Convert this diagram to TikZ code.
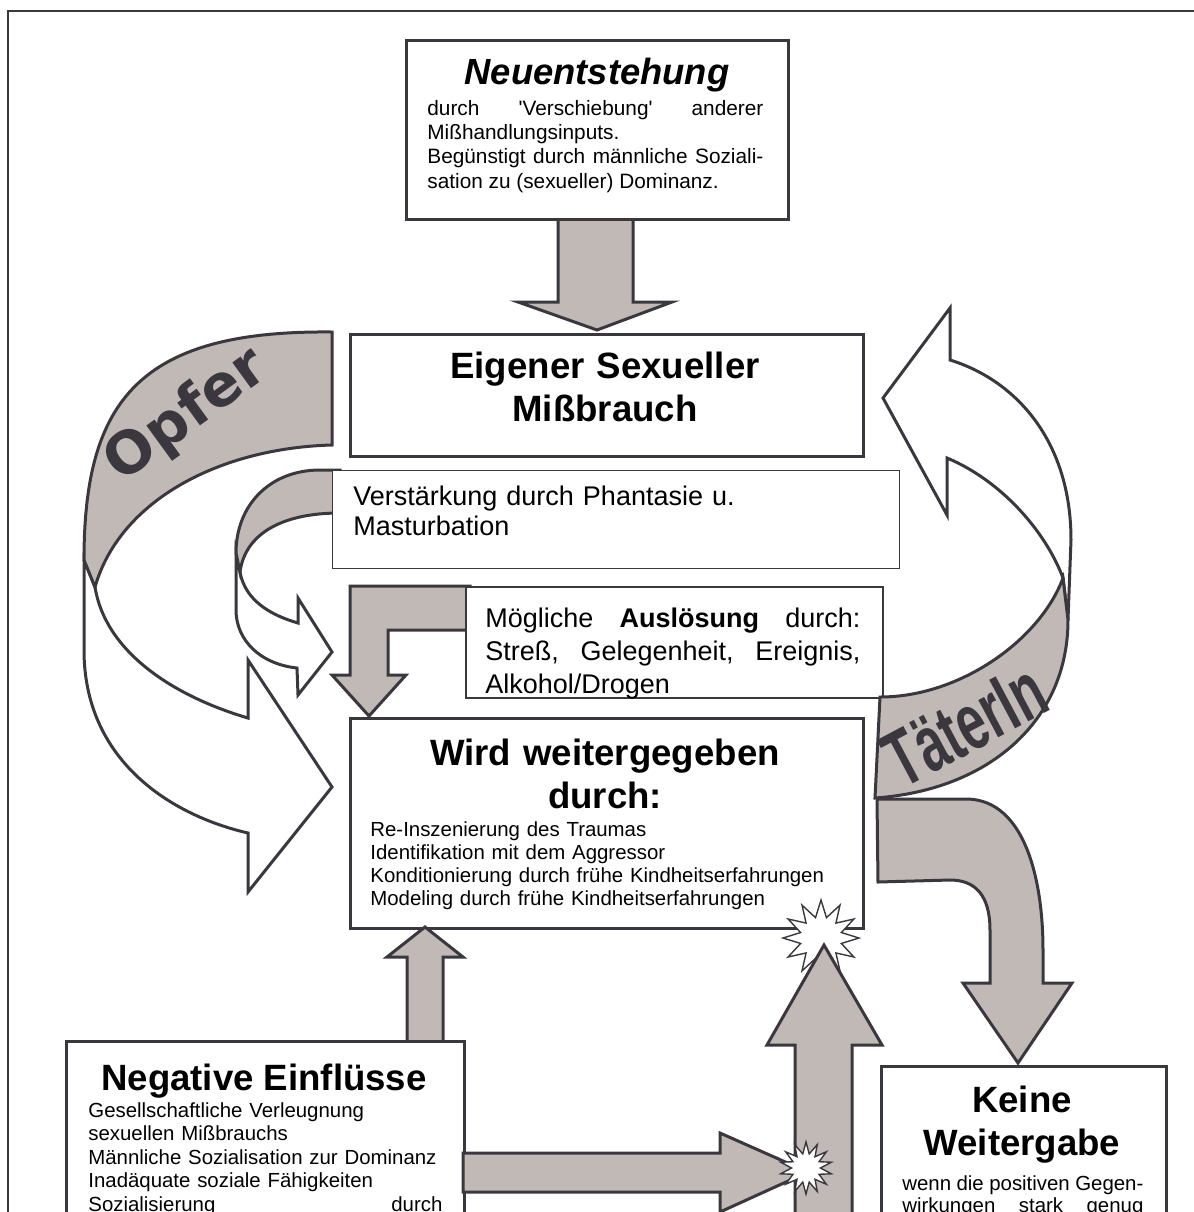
\documentclass[tikz,border=0pt]{standalone}
\usepackage{fontspec}
\setmainfont{Liberation Sans}
\newfontfamily\ribbonfont{DejaVu Sans}
\usepackage{graphicx}
\usetikzlibrary{positioning,shapes.geometric}

\definecolor{ribbongray}{RGB}{192,185,182}
\definecolor{inkgray}{RGB}{58,56,62}

\begin{document}
\begin{tikzpicture}[x=0.5pt, y=-0.5pt, line join=miter,
  panel/.style={draw=inkgray, line width=1.5pt, fill=white, anchor=north west, inner sep=0pt},
  thinpanel/.style={panel, line width=0.6pt},
  grayarrow/.style={draw=inkgray, line width=1.5pt, fill=ribbongray},
  whitearrow/.style={draw=inkgray, line width=1.5pt, fill=white},
  headline/.style={font=\fontsize{18.3}{21.5}\selectfont\bfseries, inner sep=0pt, align=center},
  smalltext/.style={font=\fontsize{10.2}{11.6}\selectfont, inner sep=0pt},
  midtext/.style={font=\fontsize{13.5}{16.5}\selectfont, inner sep=0pt},
  burst/.style={star, star points=12, star point ratio=1.8, draw=inkgray, fill=white, line width=0.7pt, inner sep=0pt},
  ribbonlabel/.style={text=inkgray, inner sep=0pt}]

  \clip (0,0) rectangle (1194,1212);

  % Rahmen
  \draw[inkgray, line width=1pt] (8,1212) -- (8,11) -- (1194,11);

  % Neuentstehung
  \draw[grayarrow] (558,215) -- (633,215) -- (633,302) -- (672,302) -- (597,330) -- (518,302) -- (558,302) -- cycle;
  \node[panel, minimum width=191pt, minimum height=89.5pt] (neu) at (405,39) {};

  % Eigener Missbrauch
  \node[panel, minimum width=256.5pt, minimum height=61pt] (eigen) at (349,333) {};

  % Band Opfer
  \draw[whitearrow] (84,560) -- (84,650) .. controls (84,760) and (170,815) .. (248,833) -- (248,892) -- (332,787) -- (248,660) -- (248,718) .. controls (170,695) and (105,650) .. (95,587) -- cycle;
  \draw[grayarrow] (332,332) .. controls (140,330) and (84,400) .. (84,560) -- (95,587) .. controls (120,500) and (220,448) .. (332,445) -- cycle;

  % Band Verstaerkung
  \draw[whitearrow] (236,553) -- (236,610) .. controls (236,640) and (260,664) .. (297,668) -- (298,695) -- (332,652) -- (298,598) -- (298,623) .. controls (270,615) and (245,600) .. (240,572) -- cycle;
  \draw[grayarrow] (340,470) -- (320,470) .. controls (270,470) and (236,505) .. (236,553) -- (240,572) .. controls (245,535) and (280,513) .. (340,513) -- cycle;
  \node[thinpanel, minimum width=283.5pt, minimum height=49pt] (verst) at (332,470) {};

  % Ausloesung
  \draw[grayarrow] (350,586) -- (470,586) -- (470,630) -- (388,630) -- (388,675) -- (406,675) -- (369,716) -- (332,675) -- (350,675) -- cycle;
  \node[panel, line width=1.2pt, minimum width=208.5pt, minimum height=55.5pt] (ausl) at (465,586) {};

  % Band TaeterIn
  \draw[whitearrow] (1068,620) -- (1071,540) .. controls (1071,440) and (1015,380) .. (950,360) -- (950,308) -- (883,398) -- (947,515) -- (947,458) .. controls (1000,480) and (1045,530) .. (1063,578) -- cycle;
  \draw[grayarrow] (1063,578) .. controls (1040,640) and (960,697) .. (880,697) -- (875,798) .. controls (990,790) and (1068,720) .. (1068,620) -- cycle;
  \draw[grayarrow] (877,799) -- (967,799) .. controls (1025,800) and (1043,880) .. (1043,950) -- (1043,983) -- (1072,983) -- (1018,1063) -- (963,983) -- (990,983) -- (990,930) .. controls (990,895) and (975,880) .. (950,880) -- (878,882) -- cycle;

  % Weitergabe
  \node[panel, minimum width=256.5pt, minimum height=105pt] (wird) at (349,717) {};
  \node[burst, minimum size=38pt] (burstbig) at (821,938) {};
  \draw[grayarrow] (795,1240) -- (795,1045) -- (767,1045) -- (824,945) -- (882,1045) -- (852,1045) -- (852,1240) -- cycle;

  % Negative Einfluesse
  \draw[grayarrow] (407,1045) -- (407,957) -- (387,957) -- (425,927) -- (463,957) -- (443,957) -- (443,1045) -- cycle;
  \node[panel, minimum width=199pt, minimum height=110pt] (neg) at (65,1040) {};
  \draw[grayarrow] (463,1153) -- (720,1153) -- (720,1133) -- (808,1172) -- (720,1212) -- (720,1192) -- (463,1192) -- cycle;
  \node[burst, star points=14, minimum size=26pt] (burstsmall) at (806,1168) {};

  % Keine Weitergabe
  \node[panel, minimum width=142.5pt, minimum height=90pt] (keine) at (880,1065) {};

  % Texte
  \node[headline, font=\fontsize{18.2}{21}\selectfont\bfseries\itshape, anchor=base] (neutitle) at (597,84) {Neuentstehung};
  \node[smalltext, font=\fontsize{10.4}{12.2}\selectfont, text width=168pt, align=justify, anchor=base west] (neutext) at (427,115)
    {durch \textquotesingle Verschiebung\textquotesingle{} anderer\linebreak Mißhandlungsinputs.\newline Begünstigt durch männliche Soziali-\linebreak sation zu (sexueller) Dominanz.};
  \node[headline, text width=250pt, anchor=base] (eigentext) at (605,378) {Eigener Sexueller\\Mißbrauch};
  \node[midtext, font=\fontsize{13.5}{15}\selectfont, text width=270pt, align=left, anchor=base west] (versttext) at (353,505)
    {Verstärkung durch Phantasie u.\\Masturbation};
  \node[midtext, text width=187.5pt, align=justify, anchor=base west] (ausltext) at (485,627)
    {Mögliche \textbf{Auslösung} durch:\linebreak Streß, Gelegenheit, Ereignis,\linebreak Alkohol/Drogen};
  \node[headline, text width=250pt, anchor=base] (wirdtitle) at (605,765) {Wird weitergegeben\\durch:};
  \node[smalltext, text width=240pt, align=left, anchor=base west] (wirdtext) at (370,836)
    {Re-Inszenierung des Traumas\\Identifikation mit dem Aggressor\\Konditionierung durch frühe Kindheitserfahrungen\\Modeling durch frühe Kindheitserfahrungen};
  \node[headline, anchor=base] (negtitle) at (264,1090) {Negative Einflüsse};
  \node[smalltext, font=\fontsize{10.2}{11.8}\selectfont, text width=177pt, align=left, anchor=base west] (negtext) at (88,1117)
    {Gesellschaftliche Verleugnung\\sexuellen Mißbrauchs\\Männliche Sozialisation zur Dominanz\\Inadäquate soziale Fähigkeiten\\Sozialisierung\hfill durch};
  \node[headline, text width=140pt, anchor=base] (keinetitle) at (1022,1112) {Keine\\Weitergabe};
  \node[smalltext, font=\fontsize{10.2}{11}\selectfont, text width=120.5pt, align=justify, anchor=base west] (keinetext) at (902,1190)
    {wenn die positiven Gegen-\linebreak wirkungen\hfill stark\hfill genug};

  % Bandbeschriftungen
  \node[ribbonlabel, rotate=36] (opfer) at (187,416) {\ribbonfont\bfseries\fontsize{29}{29}\selectfont Opfer};
  \node[ribbonlabel, rotate=28] (taeter) at (965,725) {\scalebox{0.64}[1]{\fontsize{40}{40}\selectfont\bfseries TäterIn}};
\end{tikzpicture}
\end{document}
